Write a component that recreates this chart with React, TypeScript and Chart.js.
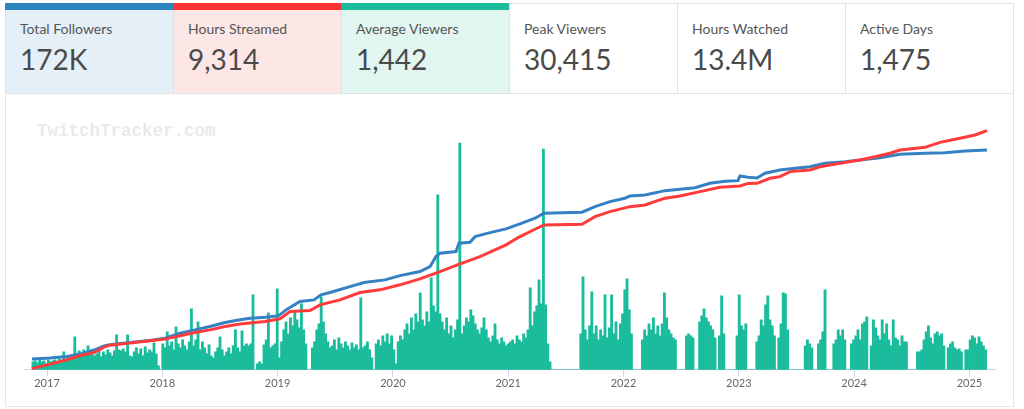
import React, { useEffect, useRef } from "react";
import { Chart, registerables } from "chart.js";

Chart.register(...registerables);

// ---- stat cards ----
const statLabels = ["Total Followers", "Hours Streamed", "Average Viewers", "Peak Viewers", "Hours Watched", "Active Days"];
const statValues = ["172K", "9,314", "1,442", "30,415", "13.4M", "1,475"];
const statAccents = ["#2e86c1", "#ff3333", "#1abc9c", "", "", ""];
const statBackgrounds = ["#e4eff8", "#fde6e6", "#e2f6f1", "#ffffff", "#ffffff", "#ffffff"];

// ---- x axis ----
const yearTicks = [2017, 2018, 2019, 2020, 2021, 2022, 2023, 2024, 2025];

// ---- weekly average viewers (bars) ----
const barStart = 2016.8786; // first week (mid Nov 2016)
const barStep = 0.019081; // one week in years
const viewers = [
  400, 450, 350, 500, 400, 450, 300, 500, 400, 450, 500, 400, 550, 450, 900, 500,
  600, 700, 750, 1650, 800, 950, 700, 1000, 850, 1200, 750, 900, 700, 800, 1000, 650, 900, 750, 1000, 850, 700, 950,
  1750, 1000, 950, 1050, 900, 1750, 700, 650, 900, 1100, 800, 1050, 700, 1150, 850, 1000, 900, 1350, 800, 200, 0,
  1300, 1100, 1900, 1200, 1400, 1000, 2150, 1300, 1100, 1500, 1200, 1000, 1400, 3050,
  1200, 1500, 2400, 1000, 1400, 1100, 800, 1250, 700,
  600, 900, 1100, 1650, 1000, 700, 900, 1100, 800, 1200, 2000, 1100, 900, 1950, 1200, 1300, 1200, 1300, 3750,
  0, 300, 400, 300, 1250, 1500, 2850, 1100, 1200, 1300, 4050,
  600, 1400, 2000, 2400, 1800, 2600, 2200, 2900, 2500, 2100, 3300, 2000, 1300, 0, 0, 1100,
  1400, 2000, 2300, 3650, 2400, 1800, 1400, 1100,
  1200, 1500, 1000, 1600, 1300, 1100, 1400, 1200, 1000, 1350, 1100, 1250, 1000, 3600, 1100,
  1200, 1400, 1000, 600, 0, 1300, 1500, 1200, 1700, 1400, 1800, 1300, 1700, 1000, 300,
  1400, 1700, 1500, 2000, 2300, 1800, 2600, 2000, 2800, 2400, 3850, 2500, 2200, 2900, 2400,
  4600, 3200, 2900, 8750, 2800, 2400, 2000, 2600, 1800, 2200, 1600, 2000, 2500, 11350, 1800,
  2200, 2600, 2400, 3000, 2700, 2300, 2000, 1800, 2100, 2600, 2000, 1600, 1400, 1700, 2300, 1500, 1300, 1600, 1400, 1200,
  1300, 1400, 1500, 1300, 1700, 1500, 1400, 1800, 1600, 2000, 4100, 2200, 2900, 3200, 4500, 3300, 11050, 3250, 1300, 400,
  0, 0, 0, 0, 0, 0, 0, 0, 0, 0, 0, 0, 0,
  1800, 4650, 2000, 1500, 2200, 3900, 1800, 2200, 1500, 2000, 1700, 3750, 1600, 2100, 3750, 1800, 2400, 1500, 2300, 2800, 4000, 4550, 3000, 1800,
  0, 0, 0, 0,
  1500, 2000, 1700, 2300, 2000, 2600, 1800, 2200, 1700, 2300, 3850, 2600, 2000, 1800, 1600, 1500,
  0, 0, 0, 0,
  1700, 1800, 1700, 1600,
  0, 0,
  2400, 2700, 3050, 2600, 2400, 2200, 2000, 1600,
  0,
  1700, 3700, 1800,
  0, 0, 0, 0, 0,
  1700, 3750, 2200, 2000, 2300,
  0, 0, 0, 0,
  1400, 1700, 2500, 2200, 3250, 3700, 2500, 2200, 1700,
  0,
  1600, 2300, 3850, 3800, 2000,
  0, 0, 0, 0, 0, 0, 0,
  1200, 1500, 1300, 1100,
  0, 0,
  1300, 1500, 1900, 4000,
  0, 0, 0,
  1300, 1500, 2000, 1700, 2000, 1500,
  0, 0,
  1300, 1500, 1700, 2000, 1500, 2300, 2400, 2650,
  0,
  1200, 2500, 2100, 1700, 1500,
  2500, 1800, 2300, 1500, 1200,
  2500, 1600, 1500, 1200, 1700, 1400, 1400,
  0, 0, 0, 0,
  900, 900,
  1000, 1500, 1900, 2200, 1600,
  1300, 1800, 1900, 1700, 1800, 1200,
  0,
  1100, 1300, 1400, 1100,
  1000, 1050, 900,
  0,
  1000, 1000, 1500, 1700, 1600, 1300, 1650, 1400, 1200, 1000,
];

// ---- total followers (blue line) ----
const followerDates = [
  2016.870, 2017.026, 2017.173, 2017.286, 2017.416, 2017.494, 2017.546, 2017.720, 2017.893, 2018.023,
  2018.153, 2018.284, 2018.414, 2018.544, 2018.674, 2018.761, 2018.891, 2019.004, 2019.030, 2019.082,
  2019.194, 2019.316, 2019.376, 2019.454, 2019.628, 2019.749, 2019.931, 2020.062, 2020.235, 2020.322,
  2020.374, 2020.408, 2020.547, 2020.573, 2020.669, 2020.712, 2020.842, 2020.981, 2021.102, 2021.232,
  2021.310, 2021.640, 2021.753, 2021.883, 2022.013, 2022.057, 2022.187, 2022.360, 2022.490, 2022.620,
  2022.750, 2022.881, 2022.993, 2023.010, 2023.080, 2023.158, 2023.227, 2023.358, 2023.488, 2023.617,
  2023.748, 2023.921, 2024.051, 2024.225, 2024.398, 2024.615, 2024.788, 2024.962, 2025.153,
];
const followers = [
  8400, 9150, 10400, 12300, 15650, 18750, 19550, 21350, 22900, 24800,
  28700, 31250, 33850, 37000, 39100, 40400, 41200, 42200, 43800, 47450,
  53400, 54700, 58650, 60450, 65100, 68250, 70350, 73700, 76850, 80750,
  88600, 91250, 92500, 99050, 99850, 104200, 107350, 110250, 114150, 118600,
  122500, 123300, 127650, 131600, 134250, 136050, 136800, 140200, 141250, 142500,
  145950, 147550, 148000, 151650, 150650, 150100, 153800, 156350, 157700, 158950,
  161600, 162850, 164200, 166000, 168650, 169400, 169900, 171200, 172000,
];

// ---- cumulative hours streamed (red line) ----
const hoursDates = [
  2016.870, 2017.026, 2017.173, 2017.286, 2017.416, 2017.494, 2017.546, 2017.720, 2017.893, 2018.023,
  2018.153, 2018.284, 2018.414, 2018.544, 2018.674, 2018.891, 2019.021, 2019.108, 2019.281, 2019.368,
  2019.541, 2019.715, 2019.888, 2020.062, 2020.235, 2020.408, 2020.582, 2020.755, 2020.981, 2021.102,
  2021.232, 2021.310, 2021.640, 2021.753, 2021.883, 2022.057, 2022.187, 2022.360, 2022.490, 2022.663,
  2022.837, 2023.010, 2023.080, 2023.158, 2023.271, 2023.358, 2023.444, 2023.617, 2023.704, 2023.877,
  2024.051, 2024.181, 2024.311, 2024.398, 2024.615, 2024.745, 2024.918, 2025.049, 2025.153,
];
const hoursStreamed = [
  40, 220, 390, 545, 690, 885, 960, 1040, 1130, 1195,
  1325, 1450, 1555, 1685, 1780, 1880, 1985, 2270, 2310, 2530,
  2725, 3010, 3115, 3310, 3540, 3825, 4125, 4410, 4865, 5190,
  5475, 5645, 5670, 5965, 6160, 6355, 6420, 6685, 6770, 6940,
  7110, 7160, 7260, 7265, 7460, 7525, 7720, 7785, 7910, 8045,
  8175, 8300, 8435, 8560, 8665, 8860, 9020, 9145, 9314,
];

function ChartPanel() {
  const canvasRef = useRef<HTMLCanvasElement | null>(null);

  useEffect(() => {
    const canvas = canvasRef.current;
    if (!canvas) return;
    const chart = new Chart(canvas, {
      type: "bar",
      data: {
        datasets: [
          {
            type: "line",
            label: "Hours Streamed",
            data: hoursDates.map((x, i) => ({ x, y: hoursStreamed[i] })),
            borderColor: "#ff3b3b",
            borderWidth: 3,
            pointRadius: 0,
            tension: 0,
            yAxisID: "yH",
            order: 0,
          } as any,
          {
            type: "line",
            label: "Followers",
            data: followerDates.map((x, i) => ({ x, y: followers[i] })),
            borderColor: "#3481c3",
            borderWidth: 3,
            pointRadius: 0,
            tension: 0,
            yAxisID: "yF",
            order: 1,
          } as any,
          {
            type: "bar",
            label: "Viewers",
            data: viewers.map((v, i) => ({ x: barStart + i * barStep, y: v })),
            backgroundColor: "#1abc9c",
            barPercentage: 1,
            categoryPercentage: 1,
            yAxisID: "yV",
            order: 2,
          } as any,
        ],
      },
      options: {
        animation: false,
        responsive: false,
        layout: { padding: { left: 18, right: 17, top: 15, bottom: 15 } },
        plugins: { legend: { display: false }, tooltip: { enabled: false } },
        scales: {
          x: {
            type: "linear",
            min: 2016.8005,
            max: 2025.222,
            offset: false,
            grid: { display: true, drawOnChartArea: false, color: "#ccd6eb", tickLength: 7, offset: false },
            border: { color: "#ccd6eb", width: 1 },
            ticks: {
              color: "#666666",
              font: { family: "Lato", size: 11 },
              padding: 0,
              autoSkip: false,
              maxRotation: 0,
              callback: (v: any) => String(v),
            },
            afterBuildTicks: (axis: any) => {
              axis.ticks = yearTicks.map((value) => ({ value }));
            },
          },
          yV: { display: false, min: 0, max: 13000 },
          yF: { display: false, min: 0, max: 203300 },
          yH: { display: false, min: 0, max: 10120 },
        },
      } as any,
    });
    return () => chart.destroy();
  }, []);

  return (
    <canvas
      ref={canvasRef}
      width={1006}
      height={310}
      style={{ position: "absolute", left: 6, top: 95, width: 1006, height: 310 }}
    />
  );
}

export default function App() {
  return (
    <div
      style={{
        position: "absolute",
        left: 0,
        top: 0,
        width: 1024,
        height: 409,
        background: "#ffffff",
        fontFamily: "Lato, 'Noto Sans', sans-serif",
        overflow: "hidden",
      }}
    >
      {statLabels.map((label, i) => (
        <div
          key={label}
          style={{
            position: "absolute",
            left: 5 + i * 168,
            top: 3,
            width: 169,
            height: 91,
            boxSizing: "border-box",
            border: "1px solid #e2e2e2",
            background: statBackgrounds[i],
          }}
        >
          {statAccents[i] ? (
            <div
              style={{
                position: "absolute",
                left: -1,
                right: -1,
                top: -1,
                height: 7,
                background: statAccents[i],
              }}
            />
          ) : null}
          <div
            style={{
              position: "absolute",
              left: 14,
              top: 16,
              fontSize: 14,
              lineHeight: "17px",
              color: "#555555",
              whiteSpace: "nowrap",
            }}
          >
            {label}
          </div>
          <div
            style={{
              position: "absolute",
              left: 14,
              top: 38,
              fontSize: 28,
              lineHeight: "34px",
              fontWeight: 400,
              color: "#4a4a4a",
              whiteSpace: "nowrap",
            }}
          >
            {statValues[i]}
          </div>
        </div>
      ))}
      <div
        style={{
          position: "absolute",
          left: 5,
          top: 93,
          width: 1009,
          height: 314,
          boxSizing: "border-box",
          border: "1px solid #e6e6e6",
          borderTop: "none",
        }}
      />
      <div
        style={{
          position: "absolute",
          left: 37,
          top: 121,
          fontFamily: "'Liberation Mono', 'DejaVu Sans Mono', monospace",
          fontWeight: 700,
          fontSize: 17.5,
          lineHeight: "20px",
          color: "#eaeaea",
          whiteSpace: "nowrap",
        }}
      >
        TwitchTracker.com
      </div>
      <ChartPanel />
    </div>
  );
}
